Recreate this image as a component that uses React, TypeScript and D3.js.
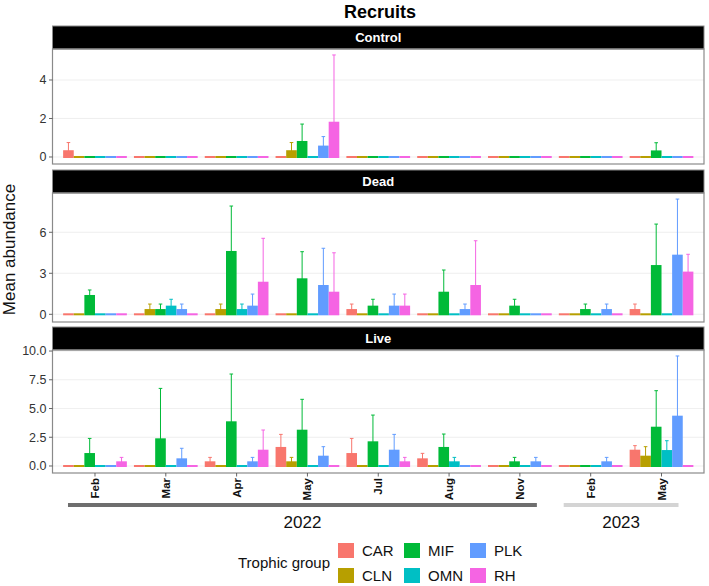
import React from 'react';
import * as d3 from 'd3';

// sampling months, two years
const months = ['Feb', 'Mar', 'Apr', 'May', 'Jul', 'Aug', 'Nov', 'Feb', 'May'];
const monthYear = ['2022', '2022', '2022', '2022', '2022', '2022', '2022', '2023', '2023'];
const groups = ['CAR', 'CLN', 'MIF', 'OMN', 'PLK', 'RH'];
const groupColors = ['#F8766D', '#B79F00', '#00BA38', '#00BFC4', '#619CFF', '#F564E3'];

// mean abundance per month (rows) and trophic group (columns)
const controlMean = [
  [0.3, 0, 0, 0, 0, 0],
  [0, 0, 0, 0, 0, 0],
  [0, 0, 0, 0, 0, 0],
  [0, 0.3, 0.78, 0, 0.54, 1.78],
  [0, 0, 0, 0, 0, 0],
  [0, 0, 0, 0, 0, 0],
  [0, 0, 0, 0, 0, 0],
  [0, 0, 0, 0, 0, 0],
  [0, 0, 0.29, 0, 0, 0],
];
// mean + standard error
const controlUpper = [
  [0.75, 0, 0, 0, 0, 0],
  [0, 0, 0, 0, 0, 0],
  [0, 0, 0, 0, 0, 0],
  [0, 0.75, 1.71, 0, 1.06, 5.3],
  [0, 0, 0, 0, 0, 0],
  [0, 0, 0, 0, 0, 0],
  [0, 0, 0, 0, 0, 0],
  [0, 0, 0, 0, 0, 0],
  [0, 0, 0.74, 0, 0, 0],
];

const deadMean = [
  [0, 0, 1.34, 0, 0, 0],
  [0, 0.31, 0.31, 0.56, 0.31, 0],
  [0, 0.31, 4.56, 0.31, 0.56, 2.31],
  [0, 0, 2.56, 0, 2.07, 1.58],
  [0.31, 0, 0.56, 0, 0.56, 0.56],
  [0, 0, 1.58, 0, 0.31, 2.07],
  [0, 0, 0.56, 0, 0, 0],
  [0, 0, 0.31, 0, 0.31, 0],
  [0.31, 0, 3.53, 0, 4.29, 3.05],
];
const deadUpper = [
  [0, 0, 1.78, 0, 0, 0],
  [0, 0.75, 0.75, 1.1, 0.75, 0],
  [0, 0.75, 7.92, 0.75, 1.48, 5.56],
  [0, 0, 4.58, 0, 4.83, 4.5],
  [0.75, 0, 1.1, 0, 1.48, 1.48],
  [0, 0, 3.24, 0, 0.75, 5.38],
  [0, 0, 1.1, 0, 0, 0],
  [0, 0, 0.75, 0, 0.75, 0],
  [0.75, 0, 6.6, 0, 8.43, 4.39],
];

const liveMean = [
  [0, 0, 1.04, 0, 0, 0.32],
  [0, 0, 2.32, 0, 0.58, 0],
  [0.32, 0, 3.8, 0, 0.32, 1.33],
  [1.57, 0.32, 3.07, 0, 0.81, 0],
  [1.04, 0, 2.06, 0, 1.33, 0.32],
  [0.58, 0, 1.57, 0.32, 0, 0],
  [0, 0, 0.32, 0, 0.32, 0],
  [0, 0, 0, 0, 0.32, 0],
  [1.33, 0.81, 3.33, 1.3, 4.29, 0],
];
const liveUpper = [
  [0, 0, 2.4, 0, 0, 0.75],
  [0, 0, 6.75, 0, 1.54, 0],
  [0.75, 0, 8.0, 0, 0.75, 3.13],
  [2.75, 0.75, 5.8, 0, 1.68, 0],
  [2.4, 0, 4.43, 0, 2.75, 0.75],
  [1.1, 0, 2.78, 0.75, 0, 0],
  [0, 0, 0.75, 0, 0.75, 0],
  [0, 0, 0, 0, 0.75, 0],
  [1.77, 1.68, 6.55, 2.2, 9.57, 0],
];

const panelNames = ['Control', 'Dead', 'Live'];
const panelTicks = [[0, 2, 4], [0, 3, 6], [0, 2.5, 5, 7.5, 10]];
const panelDomains: [number, number][] = [[-0.364, 5.61], [-0.563, 8.874], [-0.609, 10.09]];

const W = 709;
const H = 586;
const FONT = '"Liberation Sans", Arial, Helvetica, sans-serif';
const panelLeft = 52.5;
const panelRight = 704;
const stripH = 23;
const panelTops = [49, 193, 350];
const panelHeights = [115, 129, 123];

const x = d3.scaleBand<number>()
  .domain(d3.range(months.length))
  .range([panelLeft, panelRight])
  .paddingInner(0.1)
  .paddingOuter(0.15);

const xg = d3.scaleBand<string>()
  .domain(groups)
  .range([0, x.bandwidth()]);

const colour = d3.scaleOrdinal<string, string>().domain(groups).range(groupColors);

const Panel: React.FC<{ idx: number; means: number[][]; upper: number[][] }> = ({ idx, means, upper }) => {
  const top = panelTops[idx];
  const h = panelHeights[idx];
  const y = d3.scaleLinear().domain(panelDomains[idx]).range([top + h, top]);
  const ticks = panelTicks[idx];
  const fmt = idx === 2 ? d3.format('.1f') : d3.format('d');
  return (
    <g>
      {/* strip */}
      <rect x={panelLeft} y={top - stripH} width={panelRight - panelLeft} height={stripH}
        fill="#000" stroke="#8a8a8a" strokeWidth={1} />
      <text x={(panelLeft + panelRight) / 2} y={top - stripH / 2} dy="0.35em" textAnchor="middle"
        fill="#fff" fontWeight="bold" fontSize={13} fontFamily={FONT}>{panelNames[idx]}</text>

      {/* grid */}
      {ticks.map(t => (
        <line key={t} x1={panelLeft} x2={panelRight} y1={y(t)} y2={y(t)} stroke="#ebebeb" strokeWidth={0.8} />
      ))}

      {/* bars (outlined, so empty groups still leave a thin line) and error bars */}
      {months.map((_, mi) => (
        <g key={mi} transform={`translate(${x(mi)},0)`}>
          {groups.map((gname, gi) => {
            const v = means[mi][gi];
            const up = upper[mi][gi];
            const bx = xg(gname)!;
            const bw = xg.bandwidth();
            const c = colour(gname);
            return (
              <g key={gname}>
                <rect x={bx} y={y(v) - 1} width={bw} height={y(0) - y(v) + 2} fill={c} />
                {up > v && (
                  <g stroke={c} strokeWidth={1}>
                    <line x1={bx + bw / 2} x2={bx + bw / 2} y1={y(v)} y2={y(up)} />
                    <line x1={bx + bw / 2 - 1.8} x2={bx + bw / 2 + 1.8} y1={y(up)} y2={y(up)} />
                  </g>
                )}
              </g>
            );
          })}
        </g>
      ))}

      {/* border */}
      <rect x={panelLeft} y={top} width={panelRight - panelLeft} height={h}
        fill="none" stroke="#8a8a8a" strokeWidth={1.2} />

      {/* y axis */}
      {ticks.map(t => (
        <g key={t}>
          <line x1={panelLeft - 3.5} x2={panelLeft} y1={y(t)} y2={y(t)} stroke="#555" strokeWidth={0.9} />
          <text x={panelLeft - 6} y={y(t)} dy="0.35em" textAnchor="end" fontSize={12.5}
            fill="#333" fontFamily={FONT}>{fmt(t)}</text>
        </g>
      ))}
    </g>
  );
};

const App: React.FC = () => {
  const bottom = panelTops[2] + panelHeights[2];
  const years = Array.from(new Set(monthYear));
  const yearLineColors = ['#6e6e6e', '#d4d4d4'];
  return (
    <svg width={W} height={H} style={{ position: 'absolute', left: 0, top: 0, background: '#fff' }}>
      <text x={380} y={18} textAnchor="middle" fontSize={18} fontWeight="bold" fontFamily={FONT}>Recruits</text>

      <Panel idx={0} means={controlMean} upper={controlUpper} />
      <Panel idx={1} means={deadMean} upper={deadUpper} />
      <Panel idx={2} means={liveMean} upper={liveUpper} />

      <text transform={`translate(15,${(panelTops[0] - stripH + bottom) / 2}) rotate(-90)`}
        textAnchor="middle" fontSize={17} fontFamily={FONT} fill="#111">Mean abundance</text>

      {/* x axis */}
      {months.map((m, i) => {
        const cx = x(i)! + x.bandwidth() / 2;
        return (
          <g key={i}>
            <line x1={cx} x2={cx} y1={bottom} y2={bottom + 3.5} stroke="#555" strokeWidth={0.9} />
            <text transform={`translate(${cx},${bottom + 5}) rotate(-90)`} textAnchor="end" dy="0.35em"
              fontSize={11.5} fontWeight="bold" fontFamily={FONT} fill="#111">{m}</text>
          </g>
        );
      })}

      {/* year brackets */}
      {years.map((yr, yi) => {
        const idx = monthYear.map((v, i) => (v === yr ? i : -1)).filter(i => i >= 0);
        const first = x(idx[0])! + x.bandwidth() / 2;
        const last = x(idx[idx.length - 1])! + x.bandwidth() / 2;
        const x1 = first - 27;
        const x2 = last + 17;
        return (
          <g key={yr}>
            <line x1={x1} x2={x2} y1={505} y2={505} stroke={yearLineColors[yi]} strokeWidth={4} />
            <text x={(x1 + x2) / 2} y={528} textAnchor="middle" fontSize={17} fontFamily={FONT} fill="#111">{yr}</text>
          </g>
        );
      })}

      {/* legend, filled column by column */}
      <text x={330} y={563} dy="0.35em" textAnchor="end" fontSize={15} fontFamily={FONT} fill="#111">Trophic group</text>
      {groups.map((gname, i) => {
        const col = Math.floor(i / 2);
        const row = i % 2;
        const lx = 338 + col * 66;
        const ly = 543 + row * 25;
        return (
          <g key={gname}>
            <rect x={lx} y={ly} width={16} height={15} fill={colour(gname)} />
            <text x={lx + 24} y={ly + 7.5} dy="0.35em" fontSize={15} fontFamily={FONT} fill="#111">{gname}</text>
          </g>
        );
      })}
    </svg>
  );
};

export default App;
